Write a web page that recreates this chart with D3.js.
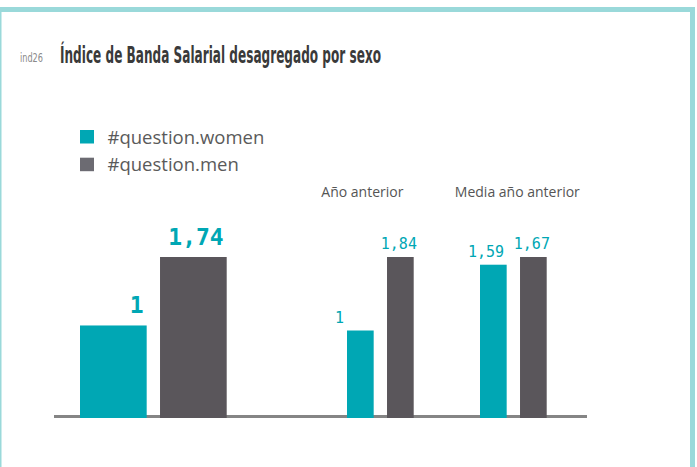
<!DOCTYPE html>
<html>
<head>
<meta charset="utf-8">
<script src="https://cdn.jsdelivr.net/npm/d3@7"></script>
<style>
  body { margin: 0; background: #fff; }
  svg { display: block; }
</style>
</head>
<body>
<div id="grafico"></div>
<script>
// datos
var grupos = ["Actual", "Año anterior", "Media año anterior"];
var cabeceras = ["", "Año anterior", "Media año anterior"];
var series = ["#question.women", "#question.men"];
var mujeres = [1, 1, 1.59];
var hombres = [1.74, 1.84, 1.67];
var etiquetasMujeres = ["1", "1", "1,59"];
var etiquetasHombres = ["1,74", "1,84", "1,67"];

var colores = ["#00a7b4", "#5a565b"];
var coloresLeyenda = ["#00a7b4", "#6c6b72"];

var width = 697, height = 467;

var svg = d3.select("#grafico")
    .append("svg")
    .attr("width", width)
    .attr("height", height);

// marco
svg.append("rect")
    .attr("x", -1)
    .attr("y", 9.5)
    .attr("width", 693.5)
    .attr("height", 480)
    .attr("fill", "#fff")
    .attr("stroke", "#9ad9da")
    .attr("stroke-width", 5);

// titulo
svg.append("text")
    .attr("x", 20)
    .attr("y", 62)
    .attr("fill", "#8a8a8a")
    .attr("textLength", 23)
    .attr("lengthAdjust", "spacingAndGlyphs")
    .style("font-family", "'DejaVu Sans', sans-serif")
    .style("font-size", "12.5px")
    .text("ind26");

svg.append("text")
    .attr("x", 60)
    .attr("y", 63)
    .attr("fill", "#3a3a3a")
    .attr("textLength", 321)
    .attr("lengthAdjust", "spacingAndGlyphs")
    .style("font-family", "'DejaVu Sans', sans-serif")
    .style("font-weight", "bold")
    .style("font-size", "23px")
    .text("Índice de Banda Salarial desagregado por sexo");

// leyenda
var leyenda = svg.append("g").attr("transform", "translate(80,130)");
series.forEach(function(s, i) {
    var g = leyenda.append("g").attr("transform", "translate(0," + (i * 27.7) + ")");
    g.append("rect").attr("width", 14).attr("height", 13.5).attr("fill", coloresLeyenda[i]);
    g.append("text")
        .attr("x", 27.5)
        .attr("y", 13.5)
        .attr("fill", "#5a5a5a")
        .style("font-family", "'Open Sans', sans-serif")
        .style("font-size", "18.5px")
        .text(s);
});

// escalas
var baseY = 418, topeY = 257;
// cada grupo tiene su propio rango horizontal y su propia escala vertical
var rangosX = [[80, 226.7], [347, 413.7], [480, 546.7]];
var padding = [1 / 6, 1 / 3, 1 / 3];

// linea base
svg.append("rect")
    .attr("x", 54)
    .attr("y", 415)
    .attr("width", 533)
    .attr("height", 3)
    .attr("fill", "#858585");

grupos.forEach(function(grupo, i) {
    var valores = [mujeres[i], hombres[i]];
    var etiquetas = [etiquetasMujeres[i], etiquetasHombres[i]];

    var x = d3.scaleBand()
        .domain(series)
        .range(rangosX[i])
        .paddingInner(padding[i]);

    var y = d3.scaleLinear()
        .domain([0, d3.max(valores)])
        .range([baseY, topeY]);

    var g = svg.append("g").attr("class", "grupo");

    g.selectAll("rect")
        .data(valores)
        .enter()
        .append("rect")
        .attr("x", function(d, j) { return x(series[j]); })
        .attr("width", x.bandwidth())
        .attr("y", function(d) { return y(d); })
        .attr("height", function(d) { return baseY - y(d); })
        .attr("fill", function(d, j) { return colores[j]; });

    var principal = i === 0;

    g.selectAll("text.valor")
        .data(valores)
        .enter()
        .append("text")
        .attr("class", "valor")
        .attr("x", function(d, j) {
            if (principal) return x(series[j]) + x.bandwidth() - 3;
            if (j === 0) return x(series[j]) - 12;
            return x(series[j]) + x.bandwidth() / 2 - 1.5;
        })
        .attr("y", function(d) { return y(d) - (principal ? 12 : 8); })
        .attr("text-anchor", function(d, j) {
            if (principal) return "end";
            return j === 0 ? "start" : "middle";
        })
        .attr("fill", "#00a7b4")
        .style("font-family", "'DejaVu Sans Mono', monospace")
        .style("font-weight", principal ? "bold" : "normal")
        .style("font-size", principal ? "23px" : "15px")
        .text(function(d, j) { return etiquetas[j]; });

    if (cabeceras[i]) {
        var r = rangosX[i];
        g.append("text")
            .attr("x", (r[0] + r[1]) / 2 + (i === 1 ? -18 : 4))
            .attr("y", 196.5)
            .attr("text-anchor", "middle")
            .attr("fill", "#555")
            .style("font-family", "'Open Sans', sans-serif")
            .style("font-size", "14px")
            .text(cabeceras[i]);
    }
});
</script>
</body>
</html>
